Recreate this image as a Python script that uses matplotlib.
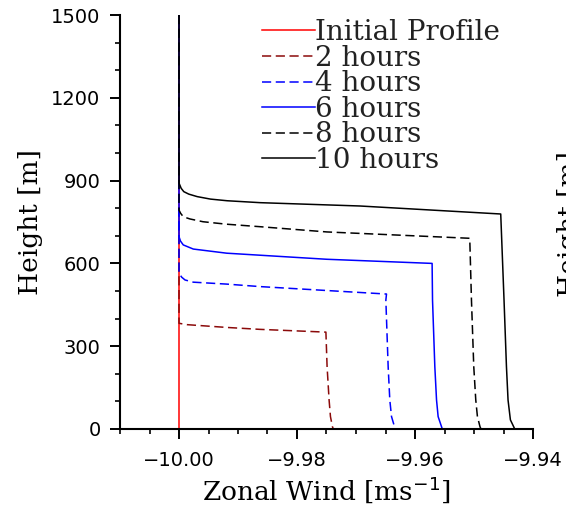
import matplotlib
matplotlib.use("Agg")
import matplotlib.pyplot as plt
from matplotlib.ticker import MultipleLocator, FuncFormatter

# profiles: zonal wind [m/s] and height [m], listed top to bottom
labels = ["Initial Profile", "2 hours", "4 hours", "6 hours", "8 hours", "10 hours"]

wind_init = [-10.0, -10.0]
z_init = [1500, 0]

wind_2h = [-10.0, -10.0, -9.99861, -9.99192, -9.98628, -9.97510,
           -9.97490, -9.97456, -9.97433, -9.97399, -9.97384]
z_2h = [1500, 383, 378, 368, 361, 351, 226, 105, 45, 8, 0]

wind_4h = [-10.0, -10.0, -9.99954, -9.99898, -9.99758, -9.99192, -9.98628, -9.96483,
           -9.96494, -9.96455, -9.96427, -9.96398, -9.96347, -9.96334]
z_4h = [1500, 564, 550, 540, 532, 525, 516, 489, 467, 226, 105, 45, 8, 0]

wind_6h = [-10.0, -10.0, -9.99975, -9.99928, -9.99758, -9.99192, -9.97499, -9.95710,
           -9.95703, -9.95664, -9.95635, -9.95608, -9.95550, -9.95537]
z_6h = [1500, 697, 681, 667, 652, 637, 615, 600, 467, 226, 105, 45, 8, 0]

wind_8h = [-10.0, -10.0, -9.99971, -9.99927, -9.99814, -9.99594, -9.99193, -9.98628,
           -9.97494, -9.95072, -9.95043, -9.95004, -9.94970, -9.94942, -9.94898, -9.94881]
z_8h = [1500, 793, 781, 769, 761, 751, 742, 733, 714, 691, 467, 226, 105, 45, 8, 0]

wind_10h = [-10.0, -10.0, -9.99963, -9.99919, -9.99834, -9.99692, -9.99467, -9.99184,
            -9.98620, -9.96935, -9.94547, -9.94491, -9.94450, -9.94423, -9.94383,
            -9.94327, -9.94310]
z_10h = [1500, 891, 872, 860, 851, 842, 833, 827, 820, 808, 779, 467, 226, 105, 33, 8, 0]

winds = [wind_init, wind_2h, wind_4h, wind_6h, wind_8h, wind_10h]
heights = [z_init, z_2h, z_4h, z_6h, z_8h, z_10h]
colors = ["#ff0000", "#8b0a0a", "#0000ff", "#0000ff", "#000000", "#000000"]
styles = ["-", (0, (6, 3)), (0, (6, 3)), "-", (0, (6, 3)), "-"]

SERIF = "DejaVu Serif"

fig = plt.figure(figsize=(5.66, 5.12), dpi=100)
ax = fig.add_axes([120 / 566, 83 / 512, 413 / 566, 414 / 512])

for w, z, c, ls, lab in zip(winds, heights, colors, styles, labels):
    ax.plot(w, z, color=c, linestyle=ls, linewidth=1.1, label=lab)

ax.set_xlim(-10.01, -9.94)
ax.set_ylim(0, 1500)
ax.xaxis.set_major_locator(MultipleLocator(0.02))
ax.xaxis.set_minor_locator(MultipleLocator(0.005))
ax.yaxis.set_major_locator(MultipleLocator(300))
ax.yaxis.set_minor_locator(MultipleLocator(100))
ax.xaxis.set_major_formatter(FuncFormatter(lambda v, p: f"{v:.2f}".replace("-", "\u2212")))

for s in ["top", "right"]:
    ax.spines[s].set_visible(False)
for s in ["left", "bottom"]:
    ax.spines[s].set_linewidth(1.5)

ax.tick_params(which="major", direction="out", length=7, width=1.4, labelsize=14)
ax.tick_params(axis="x", which="major", pad=9)
ax.tick_params(axis="y", which="major", pad=7)
ax.tick_params(which="minor", direction="out", length=3.6, width=1.2)

ax.set_xlabel("Zonal Wind [ms$^{-1}$]", family=SERIF, fontsize=19, labelpad=3)
ax.set_ylabel("Height [m]", family=SERIF, fontsize=19, labelpad=6)

leg = ax.legend(
    loc="upper left",
    bbox_to_anchor=(262 / 566, 1 - 19 / 512),
    bbox_transform=fig.transFigure,
    frameon=False,
    prop={"family": SERIF, "size": 20},
    handlelength=1.91,
    handletextpad=0.0,
    labelspacing=-0.05,
    borderpad=0,
    borderaxespad=0,
)
for t in leg.get_texts():
    t.set_color("#222222")

# edge of the neighbouring panel's axis label
fig.text(557 / 566, 1 - 224 / 512, "Height [m]", family=SERIF, fontsize=19,
         rotation=90, ha="left", va="center")

fig.savefig("out.png", dpi=100)
